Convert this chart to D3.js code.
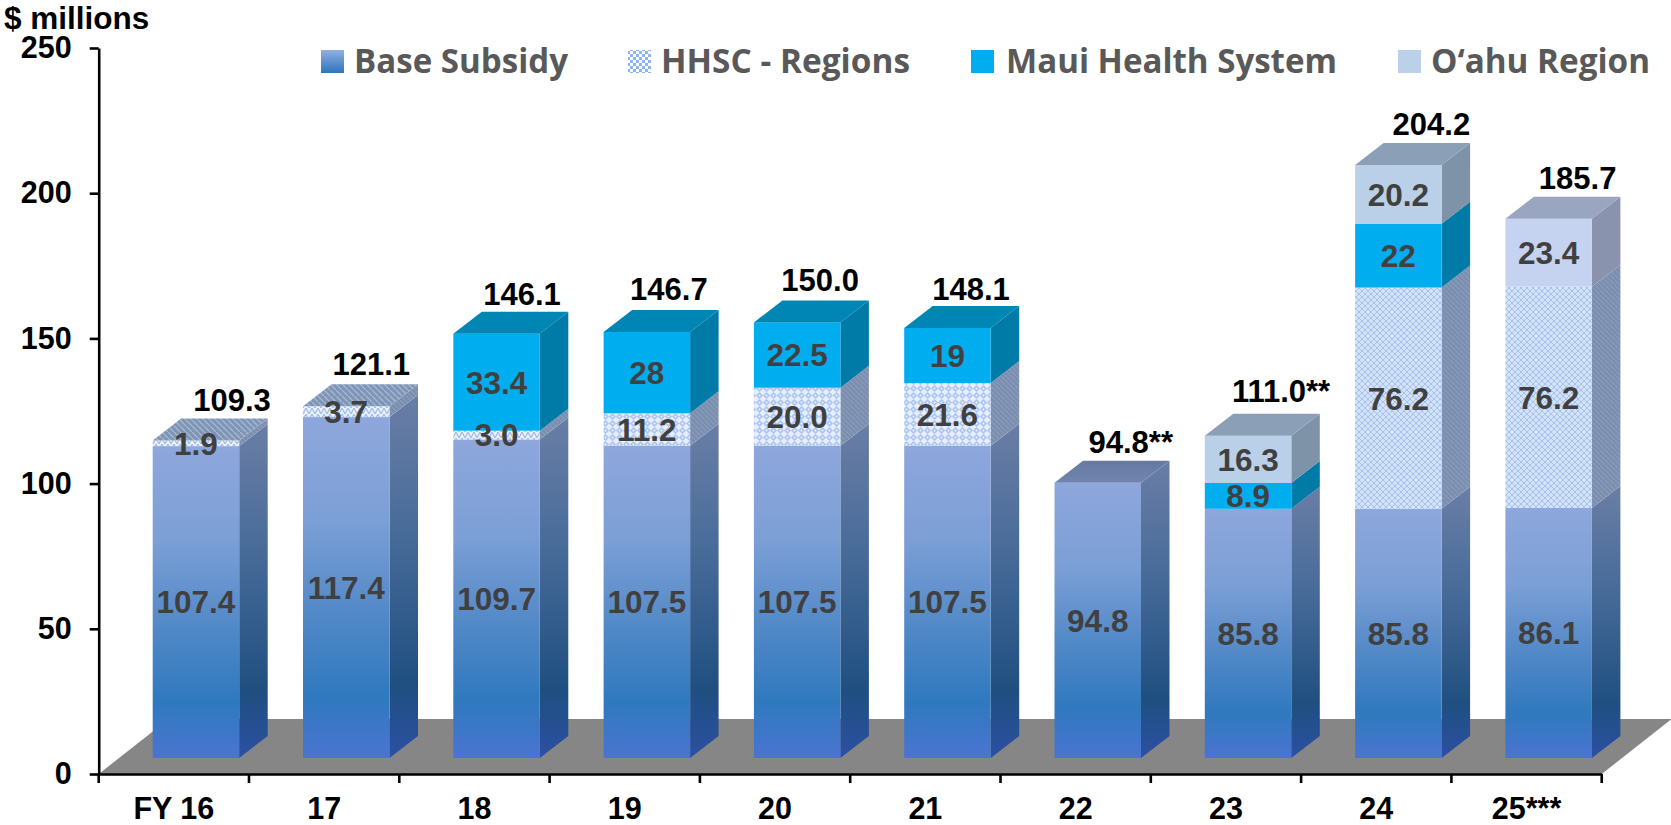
<!DOCTYPE html>
<html lang="en">
    <head>
        <meta charset="utf-8">
        <title>Subsidy by fiscal year</title>
        <script type="text/javascript" src="https://d3js.org/d3.v7.min.js"></script>
        <style>
            html, body { margin: 0; padding: 0; background: white; overflow: hidden; }
            svg { display: block; font-family: "Liberation Sans", Arial, sans-serif; font-weight: bold; }
            .axis text { font-size: 30.5px; fill: black; font-weight: bold; }
            .axis path, .axis line { stroke: black; stroke-width: 2.6px; }
            .segLabel { font-size: 31.5px; fill: #404040; text-anchor: middle; }
            .total { font-size: 31px; fill: black; text-anchor: middle; }
            .legendText { font-family: "Open Sans", sans-serif; font-size: 34.5px; fill: #595959; }
        </style>
    </head>
    <body>
        <svg id="chart" width="1671" height="825"></svg>
    </body>
    <script>
        // values
        let categories = ["FY 16", "17", "18", "19", "20", "21", "22", "23", "24", "25***"];
        let baseSubsidy = [107.4, 117.4, 109.7, 107.5, 107.5, 107.5, 94.8, 85.8, 85.8, 86.1];
        let hhscRegions = [1.9, 3.7, 3.0, 11.2, 20.0, 21.6, 0, 0, 76.2, 76.2];
        let mauiHealth = [0, 0, 33.4, 28, 22.5, 19, 0, 8.9, 22, 0];
        let oahuRegion = [0, 0, 0, 0, 0, 0, 0, 16.3, 20.2, 23.4];
        let totalLabels = ["109.3", "121.1", "146.1", "146.7", "150.0", "148.1", "94.8**", "111.0**", "204.2", "185.7"];
        let legendNames = ["Base Subsidy", "HHSC - Regions", "Maui Health System", "O\u2018ahu Region"];
        let yTicks = [0, 50, 100, 150, 200, 250];

        // layout of the hand placed bits
        let totalShiftX = [36, 25, 25.5, 22, 23, 23.5, 33, 33, 33, 29];
        let totalShiftY = [-8, -9, -7, -10, -9, -6, -8, -12, -8, -8];
        let legendSwatchX = [321, 628, 971, 1398];
        let legendTextX = [354, 661, 1006, 1431];
        let legendTextW = [214, 249, 331, 219];

        let svg = d3.select("#chart");
        let defs = svg.append("defs");

        let x = d3.scaleBand().domain(categories).range([98.7, 1601.7]);
        let y = d3.scaleLinear().domain([0, 250]).range([774, 48]);

        let barOffset = 54, barWidth = 86.5;   // inside the band
        let depthX = 28.5, depthY = 22;        // 3d depth of a bar
        let liftY = 16;                        // bars stand this far above the axis

        function addGradient(id, stops) {
            let g = defs.append("linearGradient").attr("id", id)
                .attr("x1", 0).attr("y1", 0).attr("x2", 0).attr("y2", 1);
            stops.forEach(s => g.append("stop").attr("offset", s[0]).attr("stop-color", s[1]));
        }
        addGradient("baseFront", [[0, "#8ea7dc"], [0.3, "#7c9fd6"], [0.6, "#4f87c6"], [0.82, "#2f79be"], [1, "#4b74d0"]]);
        addGradient("baseSide", [[0, "#6a7ea6"], [0.4, "#466a98"], [0.8, "#1f4f80"], [1, "#2c50a3"]]);
        addGradient("baseTop", [[0, "#66799f"], [1, "#7085b0"]]);
        addGradient("legendBase", [[0, "#8fb0e0"], [1, "#2f74bd"]]);

        function addPattern(id, size, bg, draw) {
            let p = defs.append("pattern").attr("id", id)
                .attr("patternUnits", "userSpaceOnUse")
                .attr("width", size).attr("height", size);
            p.append("rect").attr("width", size).attr("height", size).attr("fill", bg);
            draw(p);
        }
        // coarse diamonds for FY 19-21, finer and paler weave for FY 24-25
        addPattern("hhscCoarse", 7, "#e6eefc", p => {
            p.append("path").attr("d", "M3.5 0L7 3.5L3.5 7L0 3.5Z").attr("fill", "#a9c3f2");
            p.append("circle").attr("cx", 3.5).attr("cy", 3.5).attr("r", 1).attr("fill", "#f4f7fe");
        });
        addPattern("hhscFine", 6, "#d3e2f8", p => {
            p.append("path").attr("d", "M0 3L3 0L6 3L3 6Z").attr("fill", "none")
                .attr("stroke", "#a5c1ee").attr("stroke-width", 1);
        });
        addPattern("hhscThin", 6, "#eaf2fe", p => {
            p.append("path").attr("d", "M0 0L3 6L6 0").attr("fill", "none")
                .attr("stroke", "#9fb9e8").attr("stroke-width", 1.2);
        });
        addPattern("hhscSide", 5, "#7a8eb0", p => {
            p.append("line").attr("x1", 0).attr("y1", 0).attr("x2", 5).attr("y2", 5)
                .attr("stroke", "#8c9cba").attr("stroke-width", 1.2);
        });
        addPattern("hhscTop", 6, "#7f95b8", p => {
            p.append("line").attr("x1", 0).attr("y1", 0).attr("x2", 6).attr("y2", 6)
                .attr("stroke", "#a5b6cf").attr("stroke-width", 1.4);
        });
        addPattern("hhscLegend", 6, "#ffffff", p => {
            p.append("rect").attr("width", 3).attr("height", 3).attr("fill", "#8db4f5");
            p.append("rect").attr("x", 3).attr("y", 3).attr("width", 3).attr("height", 3).attr("fill", "#8db4f5");
        });

        function styleFor(key, i, h) {
            if (key == "base") return {front: "url(#baseFront)", side: "url(#baseSide)", top: "url(#baseTop)"};
            if (key == "hhsc") {
                let front = h < 15 ? "url(#hhscThin)" : (h > 100 ? "url(#hhscFine)" : "url(#hhscCoarse)");
                return {front: front, side: "url(#hhscSide)", top: "url(#hhscTop)"};
            }
            if (key == "maui") return {front: "#00aeef", side: "#007aa6", top: "#0086b4"};
            // the FY 25 O'ahu block is a bit more violet than the others
            if (i == 9) return {front: "#c6d3f0", side: "#8a93ad", top: "#9aa6c1"};
            return {front: "#b9d0e8", side: "#7f93a8", top: "#8ba0b6"};
        }

        // floor of the 3d chart
        svg.append("polygon")
            .attr("points", [[x.range()[0], y(0)], [x.range()[1], y(0)],
                             [x.range()[1] + 70, y(0) - 55], [x.range()[0] + 70, y(0) - 55]].join(" "))
            .attr("fill", "#868686");

        // stack the series, one group per bar
        let rows = categories.map((c, i) => ({
            cat: c, base: baseSubsidy[i], hhsc: hhscRegions[i], maui: mauiHealth[i], oahu: oahuRegion[i]
        }));
        let stack = d3.stack().keys(["base", "hhsc", "maui", "oahu"]);
        let series = stack(rows);

        let bars = svg.append("g").attr("class", "bars")
            .selectAll("g")
            .data(categories)
            .enter()
            .append("g");

        bars.each(function(cat, i) {
            let g = d3.select(this);
            let x0 = x(cat) + barOffset;
            let x1 = x0 + barWidth;
            let segs = series.map(s => ({key: s.key, lo: s[i][0], hi: s[i][1]})).filter(s => s.hi > s.lo);

            segs.forEach(s => {
                let yb = y(s.lo) - liftY;
                let yt = y(s.hi) - liftY;
                let st = styleFor(s.key, i, yb - yt);
                g.append("polygon")
                    .attr("points", [[x1, yb], [x1 + depthX, yb - depthY], [x1 + depthX, yt - depthY], [x1, yt]].join(" "))
                    .attr("fill", st.side);
                g.append("rect")
                    .attr("x", x0).attr("y", yt)
                    .attr("width", barWidth).attr("height", yb - yt)
                    .attr("fill", st.front);
            });

            let last = segs[segs.length - 1];
            let yTop = y(last.hi) - liftY;
            g.append("polygon")
                .attr("points", [[x0, yTop], [x1, yTop], [x1 + depthX, yTop - depthY], [x0 + depthX, yTop - depthY]].join(" "))
                .attr("fill", styleFor(last.key, i, y(last.lo) - y(last.hi)).top);

            segs.forEach(s => {
                g.append("text")
                    .attr("class", "segLabel")
                    .attr("x", x0 + barWidth / 2)
                    .attr("y", (y(s.lo) + y(s.hi)) / 2 - liftY)
                    .attr("dy", "0.36em")
                    .text(s.key == "maui" ? String(mauiHealth[i]) : (s.hi - s.lo).toFixed(1));
            });

            g.append("text")
                .attr("class", "total")
                .attr("x", x0 + barWidth / 2 + totalShiftX[i])
                .attr("y", yTop - depthY + totalShiftY[i])
                .text(totalLabels[i]);
        });

        // axes
        let yAxis = d3.axisLeft(y).tickValues(yTicks).tickSize(9).tickPadding(18).tickSizeOuter(0);
        svg.append("g").attr("class", "axis")
            .attr("transform", "translate(" + x.range()[0] + ",0)")
            .call(yAxis);

        let xAxis = d3.axisBottom(x).tickSize(0).tickPadding(23).tickSizeOuter(0);
        let xg = svg.append("g").attr("class", "axis")
            .attr("transform", "translate(0," + y(0) + ")")
            .call(xAxis);
        xg.selectAll(".tick text").attr("dy", "0.71em");

        // x ticks sit between the bars, on the band edges
        let edges = categories.map(c => x(c)).concat([x.range()[1]]);
        xg.selectAll(".edge")
            .data(edges)
            .enter()
            .append("line")
            .attr("class", "edge")
            .attr("x1", d => d).attr("x2", d => d)
            .attr("y1", 0).attr("y2", 9);

        svg.append("text")
            .attr("x", 4).attr("y", 29)
            .attr("font-size", 31.5)
            .attr("fill", "black")
            .text("$ millions");

        // legend
        let swatchFill = ["url(#legendBase)", "url(#hhscLegend)", "#00aeef", "#bad1e9"];
        let legend = svg.append("g").attr("class", "legend");
        legend.selectAll("rect")
            .data(legendNames)
            .enter()
            .append("rect")
            .attr("x", (d, i) => legendSwatchX[i])
            .attr("y", 50)
            .attr("width", 23).attr("height", 23)
            .attr("fill", (d, i) => swatchFill[i]);
        legend.selectAll("text")
            .data(legendNames)
            .enter()
            .append("text")
            .attr("class", "legendText")
            .attr("x", (d, i) => legendTextX[i])
            .attr("y", 72.5)
            .attr("textLength", (d, i) => legendTextW[i])
            .attr("lengthAdjust", "spacingAndGlyphs")
            .text(d => d);
    </script>
</html>
